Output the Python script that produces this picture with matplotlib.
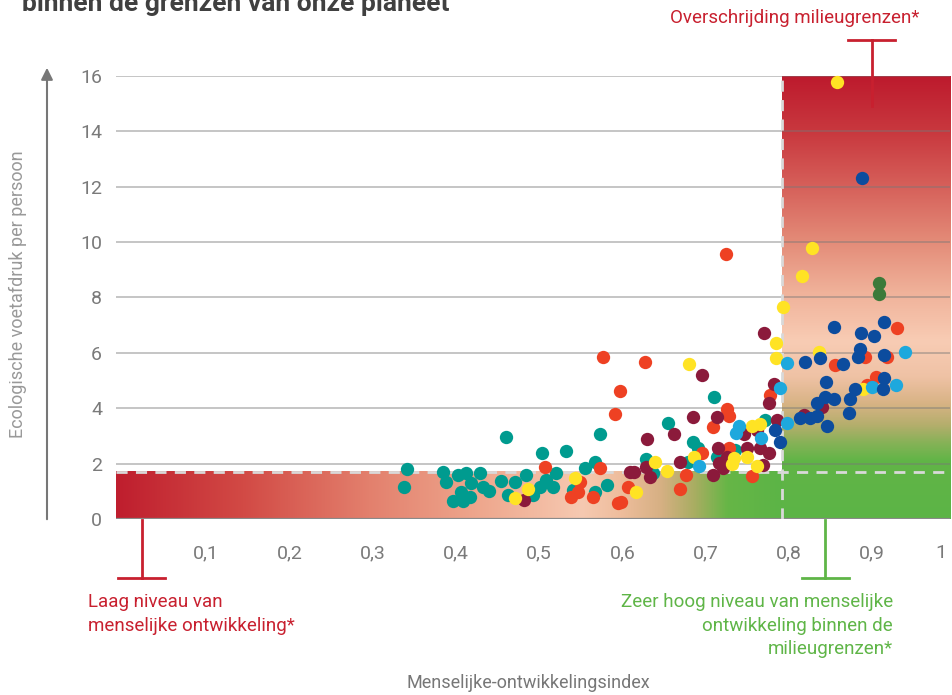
import numpy as np
import matplotlib.pyplot as plt
import matplotlib.transforms as mtransforms
from matplotlib.colors import LinearSegmentedColormap

plt.rcParams['font.family'] = ['Roboto', 'DejaVu Sans']

# Menselijke-ontwikkelingsindex (x) en ecologische voetafdruk per persoon (y), per landengroep
teal_hdi = [0.350, 0.346, 0.393, 0.397, 0.411, 0.420, 0.437, 0.414, 0.405, 0.417,
            0.425, 0.427, 0.441, 0.448, 0.463, 0.469, 0.471, 0.479, 0.493, 0.501,
            0.512, 0.509, 0.517, 0.525, 0.529, 0.541, 0.575, 0.563, 0.581, 0.590,
            0.575, 0.549, 0.663, 0.718, 0.693, 0.699, 0.687, 0.637, 0.645, 0.722,
            0.744, 0.780]
teal_footprint = [1.79, 1.14, 1.71, 1.35, 1.59, 1.67, 1.67, 0.99, 0.65, 0.65,
                  0.81, 1.29, 1.17, 1.02, 1.38, 2.95, 0.87, 1.35, 1.59, 0.87,
                  2.37, 1.17, 1.41, 1.17, 1.65, 2.45, 2.07, 1.83, 3.05, 1.23,
                  0.99, 1.05, 3.45, 4.40, 2.79, 2.57, 2.07, 2.16, 1.65, 2.25,
                  2.49, 3.56]

orange_hdi = [0.516, 0.585, 0.635, 0.605, 0.599, 0.557, 0.581, 0.555, 0.547, 0.573,
              0.603, 0.615, 0.685, 0.678, 0.607, 0.733, 0.734, 0.736, 0.717, 0.786,
              0.704, 0.737, 0.764, 0.938, 0.864, 0.900, 0.926, 0.913, 0.902]
orange_footprint = [1.89, 5.84, 5.65, 4.62, 3.79, 1.35, 1.83, 0.99, 0.78, 0.81,
                    0.59, 1.14, 1.59, 1.07, 0.62, 9.56, 3.96, 3.72, 3.33, 4.48,
                    2.39, 2.57, 1.56, 6.91, 5.56, 5.86, 5.84, 5.14, 4.84]

maroon_hdi = [0.490, 0.617, 0.704, 0.693, 0.671, 0.638, 0.622, 0.637, 0.641, 0.678,
              0.778, 0.790, 0.785, 0.722, 0.755, 0.770, 0.794, 0.723, 0.729, 0.725,
              0.734, 0.717, 0.758, 0.774, 0.784, 0.777, 0.826, 0.848]
maroon_footprint = [0.69, 1.69, 5.20, 3.67, 3.05, 2.88, 1.71, 1.89, 1.53, 2.04,
                    6.70, 4.87, 4.20, 3.67, 3.05, 3.21, 3.56, 2.57, 1.83, 2.01,
                    2.25, 1.59, 2.57, 2.57, 2.37, 1.95, 3.75, 4.03]

yellow_hdi = [0.495, 0.479, 0.551, 0.689, 0.695, 0.625, 0.648, 0.662, 0.764, 0.774,
              0.742, 0.740, 0.758, 0.770, 0.793, 0.793, 0.801, 0.824, 0.836, 0.866,
              0.845, 0.898]
yellow_footprint = [1.07, 0.75, 1.49, 5.60, 2.23, 0.99, 2.07, 1.74, 3.36, 3.43,
                    2.19, 1.99, 2.25, 1.91, 6.34, 5.80, 7.65, 8.77, 9.77, 15.77,
                    6.04, 4.68]

lightblue_hdi = [0.806, 0.798, 0.748, 0.745, 0.775, 0.806, 0.701, 0.948, 0.937, 0.908]
lightblue_footprint = [5.62, 4.72, 3.36, 3.12, 2.91, 3.45, 1.91, 6.04, 4.84, 4.78]

darkblue_hdi = [0.896, 0.923, 0.863, 0.895, 0.911, 0.846, 0.828, 0.874, 0.894, 0.892,
                0.923, 0.853, 0.923, 0.921, 0.888, 0.852, 0.842, 0.863, 0.882, 0.881,
                0.822, 0.834, 0.842, 0.854, 0.792, 0.798]
darkblue_footprint = [12.30, 7.12, 6.94, 6.70, 6.61, 5.80, 5.65, 5.60, 6.13, 5.86,
                      5.92, 4.96, 5.08, 4.68, 4.68, 4.42, 4.18, 4.32, 4.32, 3.82,
                      3.64, 3.64, 3.72, 3.36, 3.21, 2.79]

green_hdi = [0.917, 0.917]
green_footprint = [8.51, 8.11]

y_ticks = [0, 2, 4, 6, 8, 10, 12, 14, 16]
x_ticks = [0.1, 0.2, 0.3, 0.4, 0.5, 0.6, 0.7, 0.8, 0.9, 1.0]
x_labels = ['0,1', '0,2', '0,3', '0,4', '0,5', '0,6', '0,7', '0,8', '0,9', '1']

hdi_limit = 0.8        # zeer hoog niveau van menselijke ontwikkeling
footprint_limit = 1.7  # biocapaciteit per persoon

# kleurverlopen
strip_cmap = LinearSegmentedColormap.from_list('strip', [
    (0.0, '#bf1e2e'), (0.19, '#d24a45'), (0.38, '#e3806d'), (0.56, '#efaa90'),
    (0.70, '#f6c9b1'), (0.76, '#eebd9c'), (0.82, '#d6b083'), (0.87, '#a9ad62'),
    (0.92, '#66b646'), (1.0, '#5cb446')])
box_cmap = LinearSegmentedColormap.from_list('box', [
    (0.0, '#5cb446'), (0.13, '#61b547'), (0.17, '#86b257'), (0.21, '#b4ae6c'),
    (0.26, '#d8b385'), (0.32, '#efc2a5'), (0.40, '#f8ccb4'), (0.51, '#f0b29a'),
    (0.63, '#e38a77'), (0.75, '#d6605a'), (0.87, '#c9393f'), (1.0, '#bd1a2d')])

fig = plt.figure(figsize=(9.52, 6.95), dpi=100)
ax = fig.add_axes([116 / 952, 176 / 695, 834 / 952, 443.3 / 695])

ax.imshow(np.linspace(0, 1, 256).reshape(1, -1), cmap=strip_cmap, aspect='auto',
          extent=[0, hdi_limit, 0, footprint_limit], zorder=0)
ax.imshow(np.linspace(0, 1, 256).reshape(-1, 1), cmap=box_cmap, aspect='auto',
          origin='lower', extent=[hdi_limit, 1.002, 0, 16], zorder=0)

for v in y_ticks[1:]:
    ax.axhline(v, color='#777777', alpha=0.5, lw=1.2, zorder=1)
ax.axhline(0, color='#8a8a8a', lw=1.6, zorder=1)
ax.axhline(footprint_limit, color='#d9d9d9', lw=2, ls=(0, (4, 3)), zorder=2)
ax.plot([hdi_limit, hdi_limit], [0, 16], color='#d9d9d9', lw=2, ls=(0, (4, 3)), zorder=2)

dot = dict(s=92, linewidths=0, zorder=3, clip_on=False)
ax.scatter(teal_hdi, teal_footprint, color='#009b8f', **dot)
ax.scatter(orange_hdi, orange_footprint, color='#ee4123', **dot)
ax.scatter(maroon_hdi, maroon_footprint, color='#8b1a3b', **dot)
ax.scatter(yellow_hdi, yellow_footprint, color='#ffe324', **dot)
ax.scatter(lightblue_hdi, lightblue_footprint, color='#1ea8dd', **dot)
ax.scatter(darkblue_hdi, darkblue_footprint, color='#0c4c9e', **dot)
ax.scatter(green_hdi, green_footprint, color='#3c7a3a', **dot)

ax.set_xlim(0, 1.002)
ax.set_ylim(0, 16)
ax.set_yticks(y_ticks)
ax.set_xticks(x_ticks)
ax.set_xticklabels(x_labels)
ax.tick_params(axis='y', length=0, pad=10, labelsize=14, labelcolor='#7a7a7a')
ax.tick_params(axis='x', length=0, pad=18, labelsize=14, labelcolor='#7a7a7a')
# labels in het origineel staan iets naast de maatstreep
xlabs = ax.get_xticklabels()
for lab in xlabs[:-1]:
    lab.set_transform(lab.get_transform() + mtransforms.ScaledTranslation(7 / 100, 0, fig.dpi_scale_trans))
xlabs[-1].set_transform(xlabs[-1].get_transform() + mtransforms.ScaledTranslation(-8 / 100, 0, fig.dpi_scale_trans))
for s in ax.spines.values():
    s.set_visible(False)

# annotaties in pixelcoördinaten
ov = fig.add_axes([0, 0, 1, 1])
ov.set_xlim(0, 952)
ov.set_ylim(695, 0)
ov.axis('off')
ov.patch.set_visible(False)

red = '#c8202f'
green = '#5fb547'
grey = '#777777'

ov.text(22, 11, 'binnen de grenzen van onze planeet', fontsize=19, fontweight='bold',
        color='#404040', va='baseline', ha='left')

ov.text(919, 18, 'Overschrijding milieugrenzen*', fontsize=13.5, color=red, ha='right', va='center')
ov.plot([848, 895], [40, 40], color=red, lw=2)
ov.plot([872, 872], [40, 106], color=red, lw=2)

ov.plot([142, 142], [520, 578], color=red, lw=2)
ov.plot([118, 165], [578, 578], color=red, lw=2)
ov.text(88, 602, 'Laag niveau van', fontsize=13.5, color=red, ha='left', va='center')
ov.text(88, 626, 'menselijke ontwikkeling*', fontsize=13.5, color=red, ha='left', va='center')

ov.plot([825, 825], [520, 578], color=green, lw=2)
ov.plot([802, 849], [578, 578], color=green, lw=2)
ov.text(893, 602, 'Zeer hoog niveau van menselijke', fontsize=13.5, color=green, ha='right', va='center')
ov.text(893, 626, 'ontwikkeling binnen de', fontsize=13.5, color=green, ha='right', va='center')
ov.text(893, 649, 'milieugrenzen*', fontsize=13.5, color=green, ha='right', va='center')

ov.annotate('', xy=(47, 65), xytext=(47, 522),
            arrowprops=dict(arrowstyle='-|>,head_length=0.7,head_width=0.35', color=grey, lw=1.5))
ov.annotate('', xy=(956, 662), xytext=(113, 662),
            arrowprops=dict(arrowstyle='-|>,head_length=0.7,head_width=0.35', color=grey, lw=1.5))

ov.text(18, 294, 'Ecologische voetafdruk per persoon', fontsize=13, color='#999999',
        rotation=90, ha='center', va='center')
ov.text(528, 683, 'Menselijke-ontwikkelingsindex', fontsize=13, color=grey, ha='center', va='center')

fig.savefig('out.png', dpi=100)
